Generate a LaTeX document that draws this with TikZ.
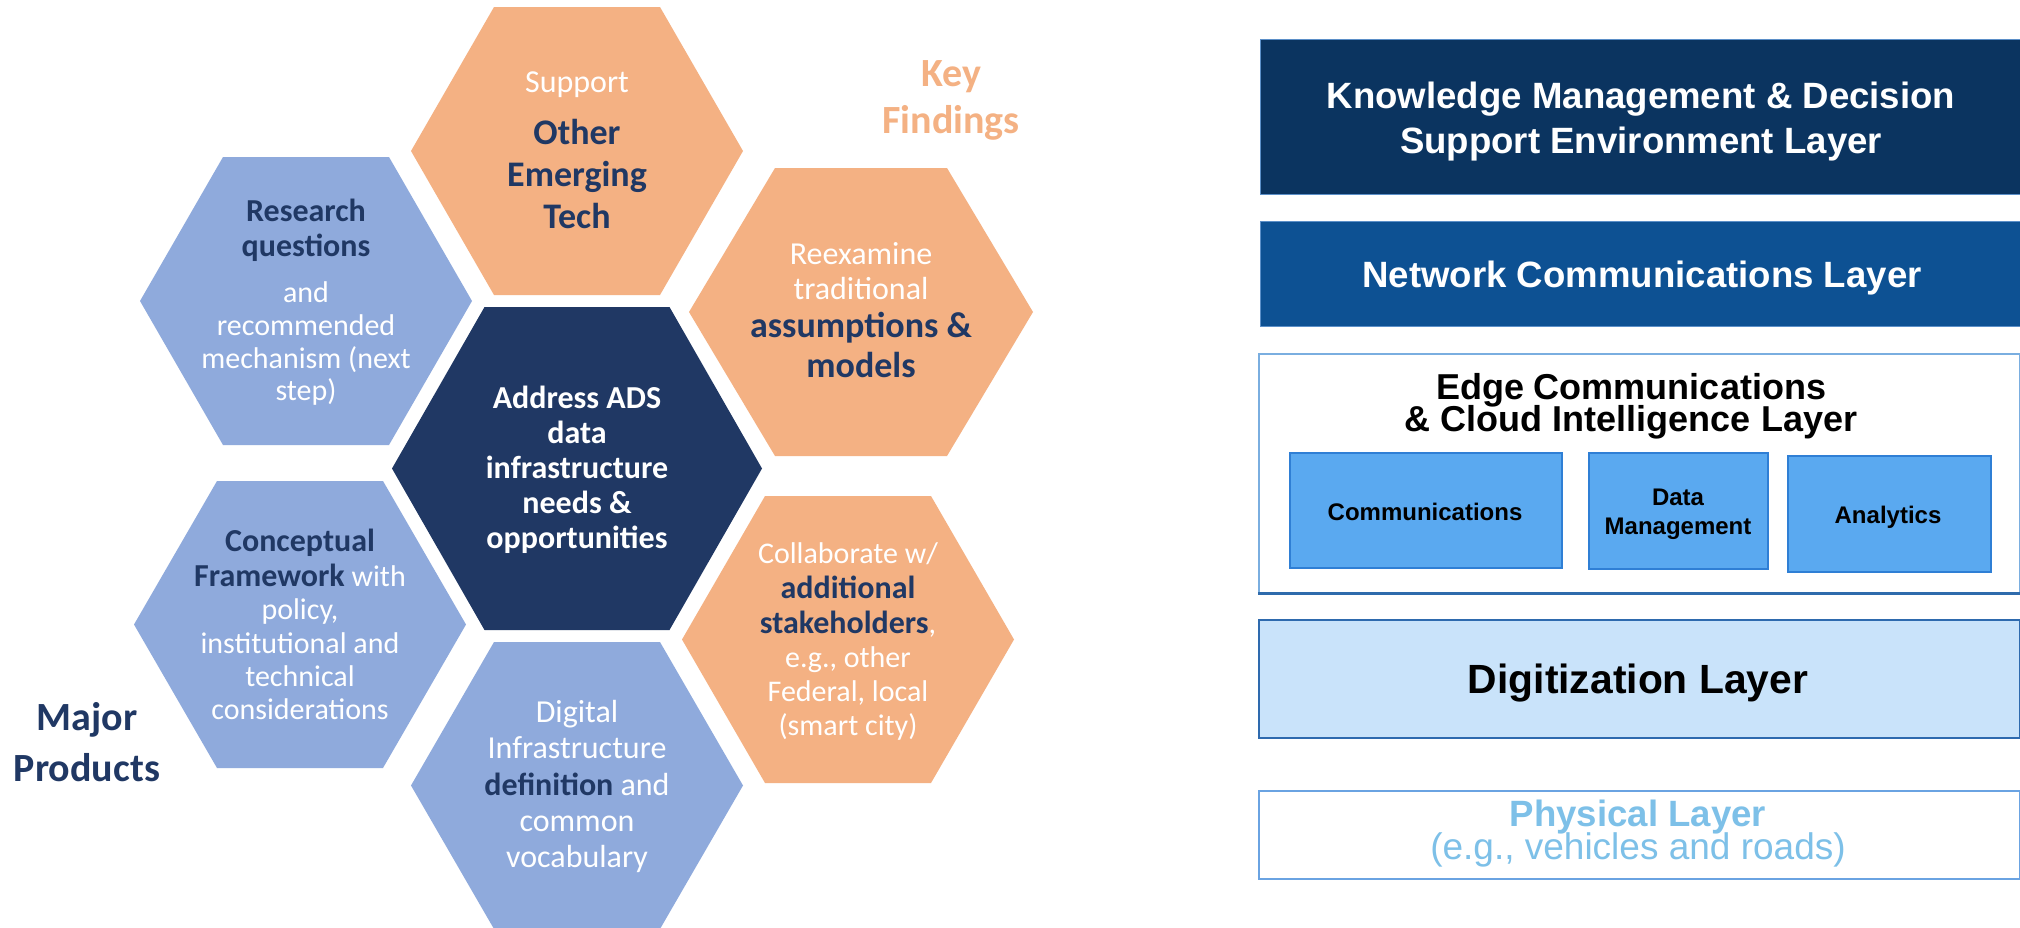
\documentclass[tikz,border=0pt]{standalone}
\usepackage{fontspec}
\setmainfont{Carlito}
\newfontfamily\arialf{Liberation Sans}
\definecolor{horange}{HTML}{F4B183}
\definecolor{hblue}{HTML}{8FAADC}
\definecolor{hdark}{HTML}{203864}
\definecolor{navy}{HTML}{203864}
\definecolor{kmfill}{HTML}{0B3460}
\definecolor{netfill}{HTML}{0D5193}
\definecolor{subfill}{HTML}{5AA9F0}
\definecolor{subline}{HTML}{2F7FD5}
\definecolor{digfill}{HTML}{C9E3FA}
\definecolor{digline}{HTML}{2E6AAE}
\definecolor{physline}{HTML}{6AA3E2}
\definecolor{phystext}{HTML}{7DC0E8}
\definecolor{edgeline}{HTML}{7AAEE0}
\definecolor{edgebot}{HTML}{2F6BAC}
\definecolor{boxline}{HTML}{5B8FC8}
\newcommand{\hexfill}[5]{\fill[#5] (#1+#3,#2) -- (#1+#3/2,#2-#4) -- (#1-#3/2,#2-#4) -- (#1-#3,#2) -- (#1-#3/2,#2+#4) -- (#1+#3/2,#2+#4) -- cycle;}
\tikzset{
  tl/.style={anchor=base, inner sep=0pt},
  hreg/.style={tl, font=\fontsize{30}{34}\selectfont, text=white},
  hregL/.style={tl, font=\fontsize{32}{36}\selectfont, text=white},
  hbold/.style={tl, font=\fontsize{32}{36}\selectfont\bfseries, text=navy},
  hboldL/.style={tl, font=\fontsize{36}{40}\selectfont\bfseries, text=navy},
  hwbold/.style={tl, font=\fontsize{32}{36}\selectfont\bfseries, text=white},
  biglabel/.style={tl, font=\fontsize{40}{44}\selectfont\bfseries},
  atext/.style={tl, font=\arialf\bfseries\fontsize{36.6}{40}\selectfont},
  asub/.style={tl, font=\arialf\bfseries\fontsize{24}{27}\selectfont, text=black},
  layerbox/.style={rectangle, inner sep=0pt, anchor=north west},
}
\begin{document}
\begin{tikzpicture}[x=1pt, y=-1pt]
\useasboundingbox (0,0) rectangle (2020,927);
\fill[white] (0,0) rectangle (2020,927);
\begin{scope}
\clip (0,0) rectangle (2020,927);
% hexagons
\hexfill{577}{151}{166}{144}{horange}
\hexfill{306}{301}{166}{144}{hblue}
\hexfill{577}{468.5}{185}{161.5}{hdark}
\hexfill{861}{312}{172}{144}{horange}
\hexfill{300}{624.5}{166}{143.5}{hblue}
\hexfill{577}{785.5}{166}{143.5}{hblue}
\hexfill{848}{639.5}{166}{143.5}{horange}
\end{scope}
% top hexagon text
\node[hregL] (t1) at (577,92) {Support};
\node[hboldL] (t2) at (577,144) {Other};
\node[hboldL] (t3) at (577,186) {Emerging};
\node[hboldL] (t4) at (577,228) {Tech};
% research hexagon
\node[hbold] (r1) at (306,221) {Research};
\node[hbold] (r2) at (306,256) {questions};
\node[hreg] (r3) at (306,302) {and};
\node[hreg] (r4) at (306,335) {recommended};
\node[hreg] (r5) at (306,368) {mechanism (next};
\node[hreg] (r6) at (306,400) {step)};
% center hexagon
\node[hwbold] (c1) at (577,408) {Address ADS};
\node[hwbold] (c2) at (577,443) {data};
\node[hwbold] (c3) at (577,478) {infrastructure};
\node[hwbold] (c4) at (577,513) {needs \&};
\node[hwbold] (c5) at (577,548) {opportunities};
% reexamine hexagon
\node[hregL] (a1) at (861,264) {Reexamine};
\node[hregL] (a2) at (861,299) {traditional};
\node[hboldL] (a3) at (861,337) {assumptions \&};
\node[hboldL] (a4) at (861,377) {models};
% conceptual hexagon
\node[hbold] (f1) at (300,551) {Conceptual};
\node[hreg] (f2) at (300,586) {\textbf{\color{navy}\fontsize{32}{36}\selectfont Framework} with};
\node[hreg] (f3) at (300,619) {policy,};
\node[hreg] (f4) at (300,653) {institutional and};
\node[hreg] (f5) at (300,686) {technical};
\node[hreg] (f6) at (300,719) {considerations};
% digital hexagon
\node[hregL] (d1) at (577,722) {Digital};
\node[hregL] (d2) at (577,758) {Infrastructure};
\node[hregL] (d3) at (577,795) {\textbf{\color{navy}definition} and};
\node[hregL] (d4) at (577,831) {common};
\node[hregL] (d5) at (577,867) {vocabulary};
% collaborate hexagon
\node[hreg] (s1) at (848,563) {Collaborate w/};
\node[hbold] (s2) at (848,598) {additional};
\node[hreg] (s3) at (848,633) {\textbf{\color{navy}\fontsize{32}{36}\selectfont stakeholders},};
\node[hreg] (s4) at (848,667) {e.g., other};
\node[hreg] (s5) at (848,701) {Federal, local};
\node[hreg] (s6) at (848,735) {(smart city)};
% labels
\node[biglabel, text=horange] (k1) at (951,86) {Key};
\node[biglabel, text=horange] (k2) at (951,133) {Findings};
\node[biglabel, text=navy] (m1) at (87,730) {Major};
\node[biglabel, text=navy] (m2) at (87,781) {Products};
% right side layers
\node[layerbox, fill=kmfill, draw=boxline, line width=1.2pt, minimum width=764pt, minimum height=155pt] (km) at (1260,39) {};
\node[atext, text=white] (km1) at (1641,108) {Knowledge Management \& Decision};
\node[atext, text=white] (km2) at (1641,153) {Support Environment Layer};
\node[layerbox, fill=netfill, draw=boxline, line width=1.2pt, minimum width=764pt, minimum height=105pt] (net) at (1260,221) {};
\node[atext, text=white] (net1) at (1642,287) {Network Communications Layer};
\node[layerbox, fill=white, draw=edgeline, line width=1.5pt, minimum width=761pt, minimum height=239pt] (edge) at (1258,353) {};
\draw[edgebot, line width=2.5pt] (edge.south west) -- (edge.south east);
\node[atext, text=black, font=\arialf\bfseries\fontsize{36}{38}\selectfont] (e1) at (1631,399) {Edge Communications};
\node[atext, text=black, font=\arialf\bfseries\fontsize{36}{38}\selectfont] (e2) at (1631,431) {\& Cloud Intelligence Layer};
\node[layerbox, fill=subfill, draw=subline, line width=1.5pt, minimum width=272pt, minimum height=115pt] (comm) at (1289,452) {};
\node[asub] (comm1) at (1425,520) {Communications};
\node[layerbox, fill=subfill, draw=subline, line width=1.5pt, minimum width=179pt, minimum height=116pt] (dm) at (1588,452) {};
\node[asub] (dm1) at (1678,505) {Data};
\node[asub] (dm2) at (1678,534) {Management};
\node[layerbox, fill=subfill, draw=subline, line width=1.5pt, minimum width=203pt, minimum height=116pt] (ana) at (1787,455) {};
\node[asub] (ana1) at (1888,523) {Analytics};
\node[layerbox, fill=digfill, draw=digline, line width=2pt, minimum width=761pt, minimum height=118pt] (dig) at (1258,619) {};
\node[atext, text=black, font=\arialf\bfseries\fontsize{40.8}{44}\selectfont] (dig1) at (1638,693) {Digitization Layer};
\node[layerbox, fill=white, draw=physline, line width=2pt, minimum width=761pt, minimum height=88pt] (phys) at (1258,790) {};
\node[atext, text=phystext] (ph1) at (1638,826) {Physical Layer};
\node[tl, text=phystext, font=\arialf\fontsize{37}{40}\selectfont] (ph2) at (1638,859) {(e.g., vehicles and roads)};
\end{tikzpicture}
\end{document}
